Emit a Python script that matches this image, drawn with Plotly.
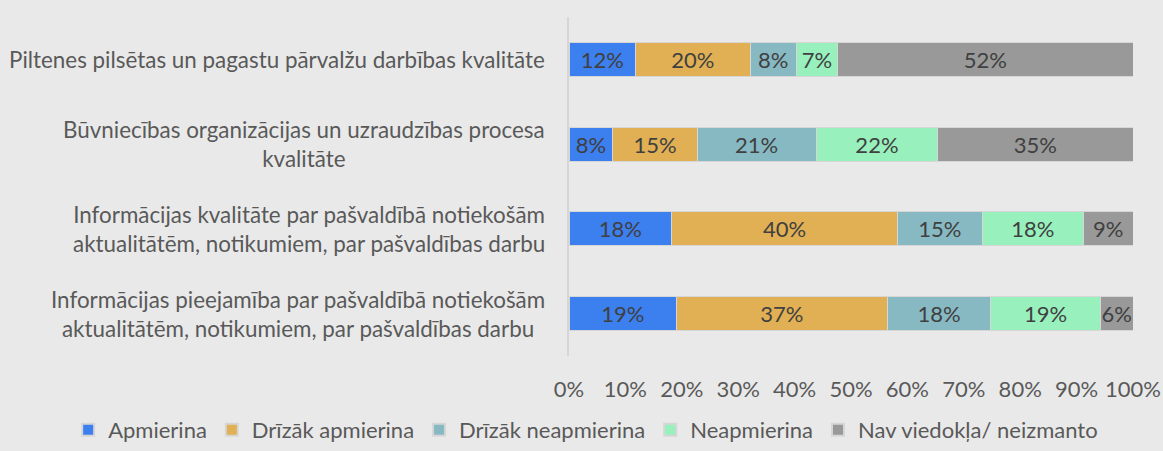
import plotly.graph_objects as go

categories = [
    "Piltenes pilsētas un pagastu pārvalžu darbības kvalitāte",
    "Būvniecības organizācijas un uzraudzības procesa<br>kvalitāte",
    "Informācijas kvalitāte par pašvaldībā notiekošām<br>aktualitātēm, notikumiem, par pašvaldības darbu",
    "Informācijas pieejamība par pašvaldībā notiekošām<br>aktualitātēm, notikumiem, par pašvaldības darbu",
]
series_names = ["Apmierina", "Drīzāk apmierina", "Drīzāk neapmierina", "Neapmierina", "Nav viedokļa/ neizmanto"]
apmierina = [11.8, 7.8, 18.2, 19.1]
drizak_apmierina = [20.3, 14.9, 40.0, 37.3]
drizak_neapmierina = [8.2, 21.1, 15.0, 18.4]
neapmierina = [7.3, 21.6, 17.9, 19.4]
nav_viedokla = [52.4, 34.6, 8.8, 5.8]
tick_vals = [0, 10, 20, 30, 40, 50, 60, 70, 80, 90, 100]

colors = ["#3C7FEF", "#E1B054", "#87B9C3", "#98F1BD", "#999999"]
series = [apmierina, drizak_apmierina, drizak_neapmierina, neapmierina, nav_viedokla]

FONT = "Lato, 'Open Sans', sans-serif"
FS = 22

fig = go.Figure()
for name, vals, col in zip(series_names, series, colors):
    fig.add_trace(go.Bar(
        y=list(range(len(categories))), x=vals, name=name, orientation="h",
        marker=dict(color=col, line=dict(color="#D6D6D6", width=1)),
        texttemplate="%{x:.0f}%", textposition="inside", insidetextanchor="middle",
        textangle=0,
        textfont=dict(color="#404040", size=FS, family=FONT),
        constraintext="none",
    ))

for i, cat in enumerate(categories):
    fig.add_annotation(
        x=0, xref="paper", xanchor="right", xshift=-22,
        y=i, yref="y", yanchor="middle",
        text=cat, showarrow=False, align="center",
        font=dict(size=22.4, color="#595959", family=FONT),
    )

fig.update_layout(
    width=1163, height=451,
    barmode="stack", barnorm="percent", bargap=0.6,
    paper_bgcolor="#E9E9E9", plot_bgcolor="#E9E9E9",
    margin=dict(l=569, r=30, t=17, b=95, autoexpand=False),
    font=dict(family=FONT, color="#595959", size=FS),
    uniformtext=dict(mode=False),
    legend=dict(orientation="h", xref="paper", yref="paper",
                x=-0.888, xanchor="left", y=-0.28, yanchor="bottom",
                font=dict(size=FS, color="#595959", family=FONT),
                itemsizing="constant", traceorder="normal", itemwidth=30,
                bgcolor="rgba(0,0,0,0)"),
    showlegend=True,
)
fig.update_xaxes(range=[0, 100], tickvals=tick_vals, ticktext=[f"{v}%" for v in tick_vals],
                 showgrid=False, zeroline=False, showline=False, ticks="",
                 tickfont=dict(size=FS, color="#595959"), ticklabelstandoff=18,
                 automargin=False)
fig.update_yaxes(showticklabels=False, showgrid=False, zeroline=False,
                 showline=True, linecolor="#D6D6D6", linewidth=2, range=[3.5, -0.5],
                 automargin=False)

fig.write_html("out.html", config={"displayModeBar": False},
               post_script="document.body.style.margin='0';")
